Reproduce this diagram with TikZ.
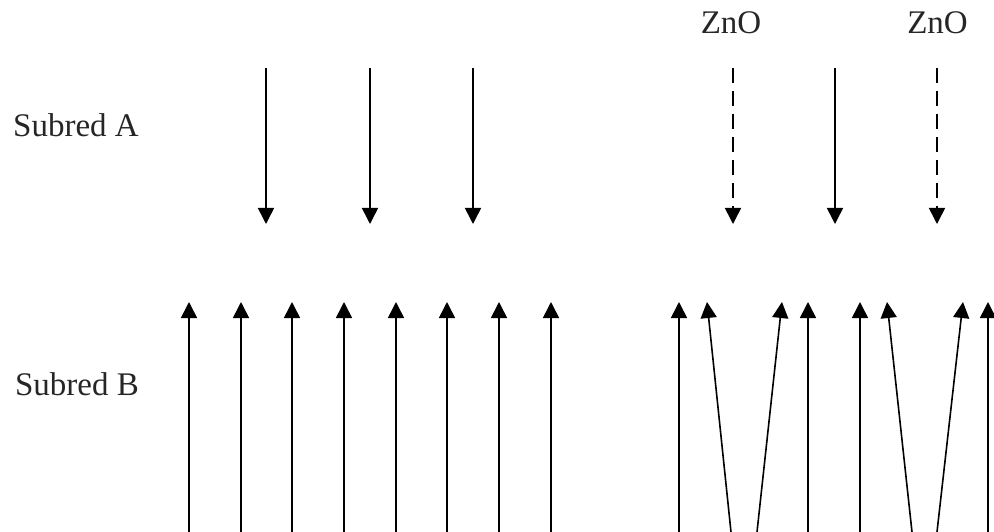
\documentclass[tikz,border=0pt]{standalone}
\usepackage{fontspec}
\setmainfont{Liberation Serif}
\usetikzlibrary{arrows.meta}
\begin{document}
\begin{tikzpicture}[x=1pt,y=-1pt,
  lbl/.style={font=\fontsize{33}{40}\selectfont,text=black!85,anchor=base,inner sep=0pt},
  arr/.style={line width=1.6pt,-{Triangle[width=16pt,length=16pt]}},
  dasharr/.style={arr,dash pattern=on 15pt off 8pt}]
\useasboundingbox (0,0) rectangle (994,532);
% labels
\node[lbl] (sa) at (76,137) {Subred A};
\node[lbl] (sb) at (77,395) {Subred B};
\node[lbl] (z1) at (731,34) {ZnO};
\node[lbl] (z2) at (937.5,34) {ZnO};
% top arrows (solid)
\foreach \i/\x in {1/266,2/370,3/473,4/835}{
  \coordinate (ts\i) at (\x,68);
  \coordinate (te\i) at (\x,224);
  \draw[arr] (ts\i) -- (te\i);
}
% top arrows (dashed)
\foreach \i/\x in {1/733,2/937}{
  \coordinate (ds\i) at (\x,68);
  \coordinate (de\i) at (\x,224);
  \draw[dasharr] (ds\i) -- (de\i);
}
% bottom left arrows
\foreach \i/\x in {1/189,2/241,3/292,4/344,5/396,6/447,7/499,8/551}{
  \coordinate (bs\i) at (\x,532);
  \coordinate (be\i) at (\x,302);
  \draw[arr] (bs\i) -- (be\i);
}
% bottom right arrows
\foreach \i/\xa/\xb in {1/679/679,2/731/707,3/757/782,4/808/808,5/860/860,6/912/887,7/937/963,8/988/988}{
  \coordinate (rs\i) at (\xa,532);
  \coordinate (re\i) at (\xb,302);
  \draw[arr] (rs\i) -- (re\i);
}
\end{tikzpicture}
\end{document}
